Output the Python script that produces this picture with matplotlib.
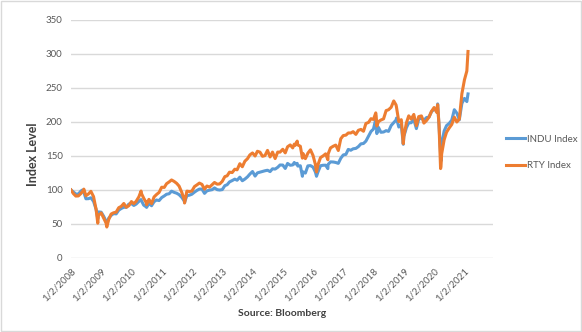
import pandas as pd
import matplotlib.pyplot as plt
import matplotlib.dates as mdates

# Rebased index levels (2 Jan 2008 = 100)
dates = [
    "2008-01-02", "2008-01-31", "2008-02-29", "2008-03-31", "2008-04-30", "2008-05-19",
    "2008-05-30", "2008-06-05", "2008-06-30", "2008-07-31", "2008-08-29", "2008-09-30",
    "2008-10-31", "2008-11-20", "2008-11-28", "2008-12-31",
    "2009-01-30", "2009-02-27", "2009-03-09", "2009-03-31", "2009-04-30", "2009-05-29",
    "2009-06-30", "2009-07-31", "2009-08-31", "2009-09-30", "2009-10-30", "2009-11-30",
    "2009-12-31",
    "2010-01-29", "2010-02-26", "2010-03-31", "2010-04-26", "2010-04-30", "2010-05-28",
    "2010-06-30", "2010-07-02", "2010-07-30", "2010-08-31", "2010-09-30", "2010-10-29",
    "2010-11-30", "2010-12-31",
    "2011-01-31", "2011-02-28", "2011-03-31", "2011-04-29", "2011-05-31", "2011-06-30",
    "2011-07-29", "2011-08-31", "2011-09-30", "2011-10-03", "2011-10-31", "2011-11-30",
    "2011-12-30",
    "2012-01-31", "2012-02-29", "2012-03-30", "2012-04-30", "2012-05-31", "2012-06-29",
    "2012-07-31", "2012-08-31", "2012-09-28", "2012-10-31", "2012-11-30", "2012-12-31",
    "2013-01-31", "2013-02-28", "2013-03-28", "2013-04-30", "2013-05-31", "2013-06-28",
    "2013-07-31", "2013-08-30", "2013-09-30", "2013-10-31", "2013-11-29", "2013-12-31",
    "2014-01-31", "2014-02-28", "2014-03-31", "2014-04-30", "2014-05-30", "2014-06-30",
    "2014-07-31", "2014-08-29", "2014-09-30", "2014-10-31", "2014-11-28", "2014-12-31",
    "2015-01-30", "2015-02-27", "2015-03-31", "2015-04-30", "2015-05-19", "2015-05-29",
    "2015-06-23", "2015-06-30", "2015-07-31", "2015-08-25", "2015-08-31", "2015-09-30",
    "2015-10-30", "2015-11-30", "2015-12-31",
    "2016-01-29", "2016-02-11", "2016-02-29", "2016-03-31", "2016-04-29", "2016-05-31",
    "2016-06-27", "2016-06-30", "2016-07-29", "2016-08-31", "2016-09-30", "2016-10-31",
    "2016-11-30", "2016-12-30",
    "2017-01-31", "2017-02-28", "2017-03-31", "2017-04-28", "2017-05-31", "2017-06-30",
    "2017-07-31", "2017-08-31", "2017-09-29", "2017-10-31", "2017-11-30", "2017-12-29",
    "2018-01-26", "2018-01-31", "2018-02-08", "2018-02-28", "2018-03-29", "2018-04-30",
    "2018-05-31", "2018-06-29", "2018-07-31", "2018-08-31", "2018-09-28", "2018-10-03",
    "2018-10-31", "2018-11-30", "2018-12-24", "2018-12-31",
    "2019-01-31", "2019-02-28", "2019-03-29", "2019-04-30", "2019-05-31", "2019-06-28",
    "2019-07-31", "2019-08-30", "2019-09-30", "2019-10-31", "2019-11-29", "2019-12-31",
    "2020-01-31", "2020-02-12", "2020-02-28", "2020-03-18", "2020-03-23", "2020-03-31",
    "2020-04-30", "2020-05-29", "2020-06-30", "2020-07-31", "2020-08-31", "2020-09-30",
    "2020-10-30", "2020-11-30", "2020-12-31",
    "2021-01-29", "2021-02-12",
]

indu = [
    100.0, 97.0, 94.0, 94.0, 98.3, 99.9, 96.9, 96.6, 87.0, 87.2, 88.5, 83.2,
    71.5, 57.9, 67.7, 67.3,
    61.3, 54.1, 50.2, 58.3, 62.6, 65.2, 64.8, 70.3, 72.8, 74.5, 74.5, 79.3,
    79.9,
    77.2, 79.2, 83.2, 85.9, 84.4, 77.7, 74.9, 74.3, 80.2, 76.8, 82.7, 85.2,
    84.4, 88.8,
    91.2, 93.7, 94.4, 98.2, 96.4, 95.2, 93.1, 89.0, 83.7, 81.7, 91.7, 92.3,
    93.7,
    96.8, 99.3, 101.3, 101.3, 95.0, 98.7, 99.7, 100.4, 103.0, 100.4, 99.9, 100.5,
    106.3, 107.7, 111.8, 113.8, 115.9, 114.3, 118.8, 113.5, 116.0, 119.2, 123.3, 127.1,
    120.4, 125.1, 126.2, 127.1, 128.2, 129.0, 127.0, 131.1, 130.7, 133.3, 136.7, 136.6,
    131.6, 139.0, 136.3, 136.8, 140.4, 138.1, 139.1, 135.1, 135.6, 120.1, 126.7, 124.8,
    135.4, 135.8, 133.6,
    126.2, 120.1, 126.6, 135.6, 136.3, 136.4, 131.4, 137.5, 141.3, 141.1, 140.4, 139.1,
    146.6, 151.5,
    152.3, 159.6, 158.4, 160.5, 161.1, 163.7, 167.8, 168.3, 171.8, 179.2, 186.1, 189.5,
    204.1, 200.5, 182.9, 191.9, 184.8, 185.2, 187.2, 186.1, 194.8, 199.1, 202.8, 205.7,
    192.5, 195.8, 167.1, 178.8,
    191.6, 198.7, 198.8, 203.9, 190.2, 203.9, 205.9, 202.4, 206.4, 207.3, 215.0, 218.8,
    216.6, 226.5, 194.8, 152.6, 142.5, 168.0, 186.6, 194.6, 197.9, 202.6, 218.0, 213.0,
    203.2, 227.2, 234.6,
    229.9, 241.2,
]

rty = [
    100.0, 94.6, 91.0, 91.2, 94.7, 97.5, 99.2, 101.2, 91.4, 94.2, 98.0, 90.2,
    71.2, 51.1, 62.7, 66.2,
    58.8, 51.6, 45.5, 56.1, 64.6, 66.4, 67.4, 73.9, 75.9, 80.1, 74.5, 76.9,
    82.9,
    79.8, 83.3, 89.9, 98.4, 95.1, 87.9, 80.8, 78.2, 86.2, 79.8, 89.7, 93.2,
    96.4, 104.0,
    103.7, 109.2, 111.8, 114.7, 112.5, 109.7, 105.7, 96.3, 85.4, 80.8, 98.3, 97.7,
    98.3,
    105.0, 107.4, 110.1, 108.2, 101.1, 105.8, 104.2, 107.7, 111.0, 108.5, 108.9, 112.6,
    119.6, 120.8, 126.1, 125.6, 130.5, 129.6, 138.6, 134.1, 142.3, 145.9, 151.5, 154.4,
    149.9, 156.9, 155.6, 149.5, 150.5, 158.2, 148.5, 155.7, 146.2, 155.7, 155.6, 159.8,
    154.5, 163.5, 166.2, 161.8, 167.4, 165.4, 171.8, 166.3, 164.2, 146.8, 153.7, 146.0,
    154.1, 159.0, 150.7,
    137.3, 126.4, 137.1, 147.7, 149.9, 153.1, 144.4, 152.8, 161.8, 164.3, 166.0, 158.0,
    175.3, 180.0,
    180.6, 183.8, 183.8, 185.7, 181.7, 187.7, 189.0, 186.3, 197.7, 199.3, 204.8, 203.6,
    213.3, 208.9, 194.0, 200.5, 202.8, 204.5, 216.7, 217.9, 221.6, 230.9, 224.9, 221.8,
    200.4, 203.3, 168.0, 178.9,
    198.8, 209.0, 204.2, 211.0, 194.4, 207.8, 208.9, 198.3, 202.0, 207.2, 215.5, 221.2,
    214.1, 225.3, 195.8, 131.4, 134.5, 152.9, 173.7, 184.9, 191.1, 196.3, 207.0, 199.9,
    204.1, 241.4, 261.9,
    274.9, 303.6,
]

tick_years = list(range(2008, 2022))
y_ticks = [0, 50, 100, 150, 200, 250, 300, 350]

plt.rcParams['font.family'] = ['Lato', 'DejaVu Sans']

x = pd.to_datetime(dates)

fig = plt.figure(figsize=(5.82, 3.32), dpi=100)
ax = fig.add_axes([0.122, 0.223, 0.725, 0.717])

ax.plot(x, indu, color='#5B9BD5', linewidth=2.2, label='INDU Index')
ax.plot(x, rty, color='#ED7D31', linewidth=2.2, label='RTY Index')

ax.set_ylim(0, 350)
ax.set_yticks(y_ticks)
ax.set_xlim(pd.Timestamp('2008-01-02'), pd.Timestamp('2021-12-10'))
ax.set_xticks([pd.Timestamp(f'{yr}-01-02') for yr in tick_years])
ax.xaxis.set_major_formatter(mdates.DateFormatter('1/2/%Y'))
plt.setp(ax.get_xticklabels(), rotation=45, ha='right', rotation_mode='anchor')

ax.grid(axis='y', color='#d9d9d9', linewidth=1.0)
ax.set_axisbelow(True)
for s in ax.spines.values():
    s.set_visible(False)
ax.tick_params(length=0, labelsize=7, labelcolor='#595959', pad=6)

# axis title sits a little below the middle of the plot area
fig.text(33 / 582, 0.535, 'Index Level', rotation=90, ha='center', va='center',
         fontsize=9, fontweight='bold', color='#404040')
fig.text(0.485, 0.048, 'Source: Bloomberg', ha='center', fontsize=7.5,
         fontweight='bold', color='#404040')

ax.legend(loc='center left', bbox_to_anchor=(1.01, 0.443), frameon=False,
          fontsize=7, labelcolor='#595959', handlelength=2.0, handletextpad=0.2,
          labelspacing=1.8)

# light frame round the whole chart
fig.patches.append(plt.Rectangle((0.002, 0.003), 0.996, 0.994, transform=fig.transFigure,
                                 fill=False, edgecolor='#d9d9d9', linewidth=1.0))

plt.savefig('out.png', dpi=100)
